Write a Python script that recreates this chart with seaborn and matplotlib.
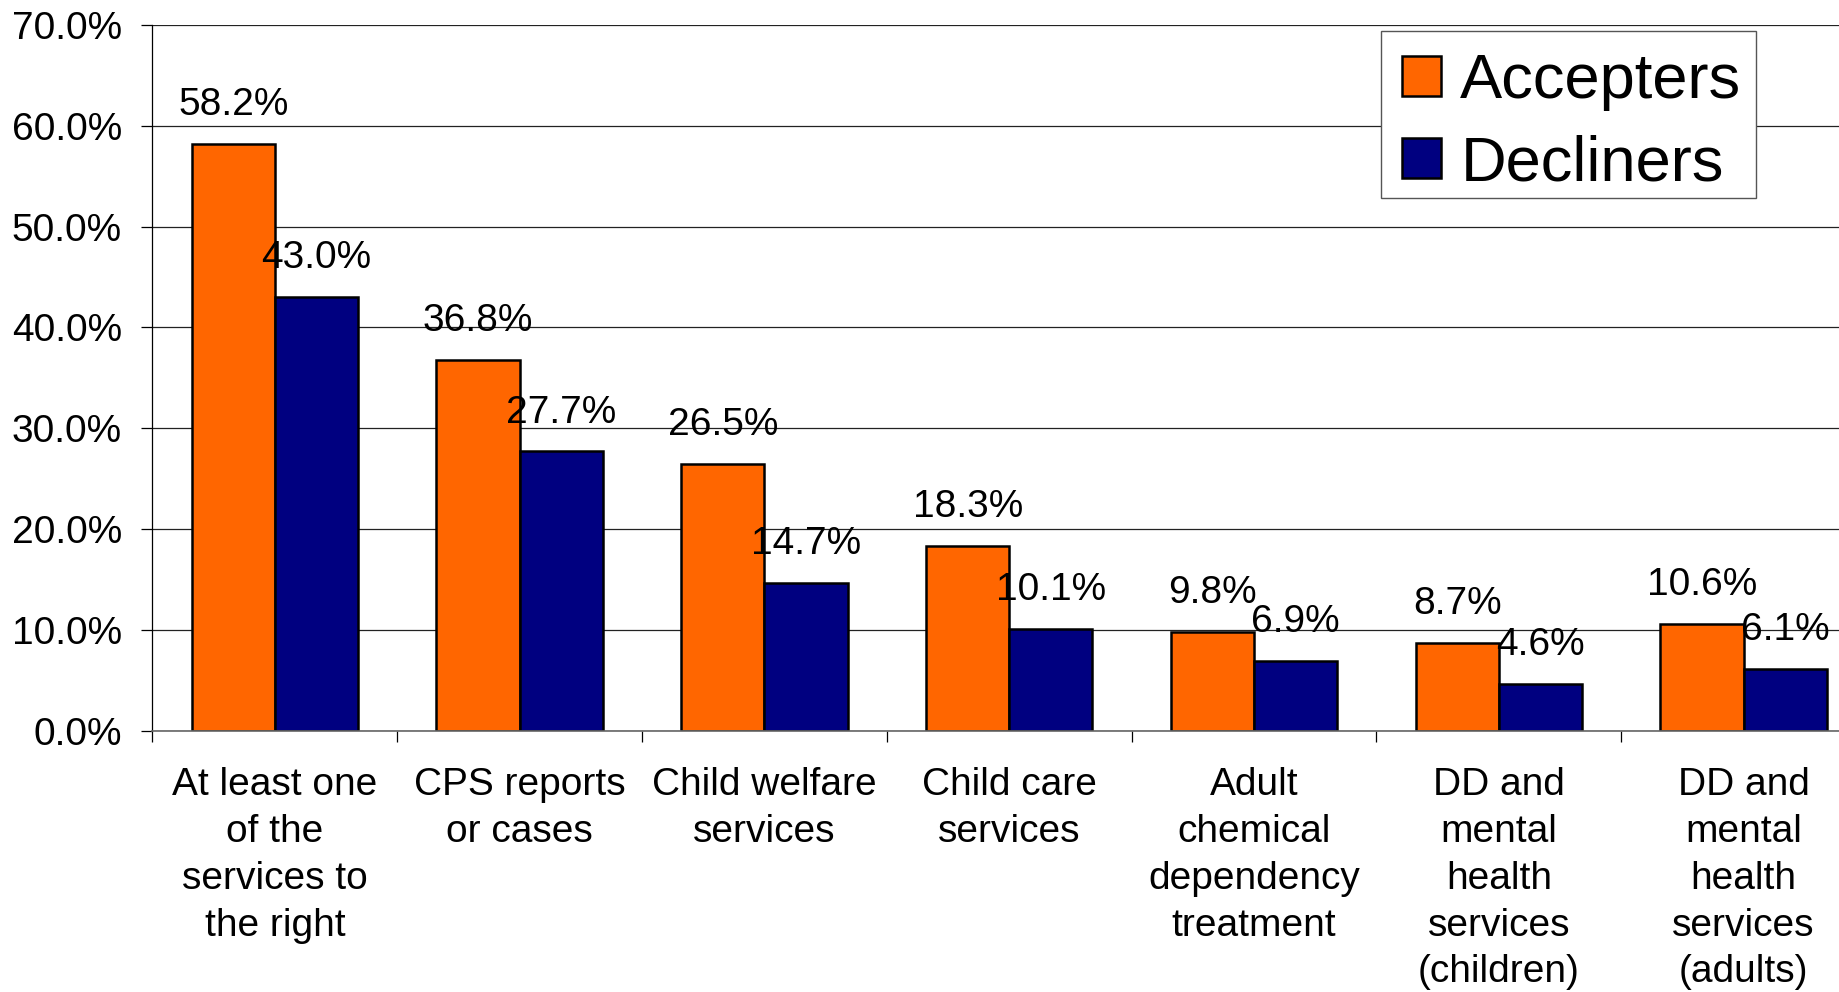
import matplotlib
matplotlib.use("Agg")
import matplotlib.pyplot as plt
from matplotlib.patches import Rectangle
from matplotlib.ticker import FixedLocator, FuncFormatter
import seaborn as sns
import pandas as pd

categories = [
    "At least one\nof the\nservices to\nthe right",
    "CPS reports\nor cases",
    "Child welfare\nservices",
    "Child care\nservices",
    "Adult\nchemical\ndependency\ntreatment",
    "DD and\nmental\nhealth\nservices\n(children)",
    "DD and\nmental\nhealth\nservices\n(adults)",
]
accepters = [58.2, 36.8, 26.5, 18.3, 9.8, 8.7, 10.6]
decliners = [43.0, 27.7, 14.7, 10.1, 6.9, 4.6, 6.1]
groups = ["Accepters", "Decliners"]
y_ticks = [0, 10, 20, 30, 40, 50, 60, 70]

df = pd.DataFrame({
    "category": categories * 2,
    "value": accepters + decliners,
    "group": [groups[0]] * len(categories) + [groups[1]] * len(categories),
})

sns.set_theme(style="white")
plt.rcParams["font.family"] = ["Liberation Sans", "DejaVu Sans"]
plt.rcParams["text.color"] = "black"
plt.rcParams["xtick.color"] = "black"
plt.rcParams["ytick.color"] = "black"

FS = 28

fig = plt.figure(figsize=(18.39, 9.92), dpi=100)
ax = fig.add_axes([0.0829, 0.2634, 0.9318, 0.7114])

palette = {"Accepters": "#FF6600", "Decliners": "#000080"}
sns.barplot(data=df, x="category", y="value", hue="group", palette=palette,
            order=categories, hue_order=groups, width=0.68, gap=0,
            edgecolor="black", linewidth=1.8, saturation=1, ax=ax,
            errorbar=None)

ax.set_ylim(0, 70)
ax.set_xlim(-0.5, len(categories) - 0.5)
ax.yaxis.set_major_locator(FixedLocator(y_ticks))
ax.yaxis.set_major_formatter(FuncFormatter(lambda v, p: f"{v:.1f}%"))
ax.grid(axis="y", color="#222222", linewidth=0.9)
ax.set_axisbelow(True)
ax.set_xlabel("")
ax.set_ylabel("")

for s in ["top", "right"]:
    ax.spines[s].set_visible(False)
ax.spines["left"].set_color("black")
ax.spines["left"].set_linewidth(0.9)
ax.spines["bottom"].set_color("#666666")
ax.spines["bottom"].set_linewidth(1.2)

ax.tick_params(axis="y", which="major", length=8, width=0.9, color="black",
               direction="out", left=True, pad=14, labelsize=FS,
               labelcolor="black")
ax.tick_params(axis="x", which="major", length=0, pad=26, labelsize=FS,
               labelcolor="black")
for lab in ax.get_xticklabels():
    lab.set_linespacing(1.39)
ax.xaxis.set_minor_locator(FixedLocator([i - 0.5 for i in range(len(categories) + 1)]))
ax.tick_params(axis="x", which="minor", length=8, width=0.9, color="black",
               direction="out", bottom=True)

for container in ax.containers:
    for bar in container:
        h = bar.get_height()
        ax.annotate(f"{h:.1f}%", (bar.get_x() + bar.get_width() / 2, h),
                    xytext=(0, 28), textcoords="offset points",
                    ha="center", va="center", fontsize=FS, color="black")

# legend entries, with a plain rectangular frame drawn around them
leg = ax.legend(loc="upper left", bbox_to_anchor=(0.7508, 0.9684),
                bbox_transform=fig.transFigure, fontsize=45.5, frameon=False,
                handlelength=0.63, handleheight=0.6, handletextpad=0.3,
                labelspacing=0.37, borderpad=0.33, borderaxespad=0)
for t in leg.get_texts():
    t.set_color("black")
for h in leg.legend_handles:
    h.set_edgecolor("black")
    h.set_linewidth(1.8)
leg.set_zorder(6)

frame = Rectangle((0.7508, 0.8007), 0.2039, 0.1677, transform=fig.transFigure,
                  facecolor="white", edgecolor="#555555", linewidth=1.0,
                  zorder=5, clip_on=False)
ax.add_patch(frame)

fig.savefig("out.png", dpi=100)
